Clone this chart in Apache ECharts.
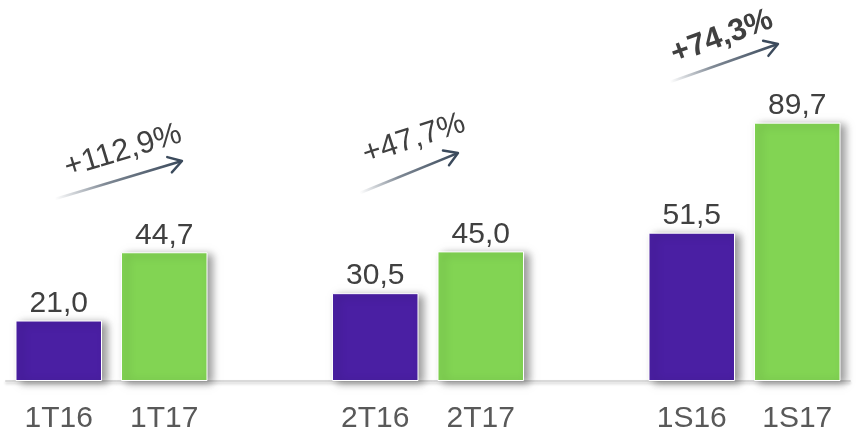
<!DOCTYPE html>
<html><head><meta charset="utf-8">
<script src="https://cdn.jsdelivr.net/npm/echarts@6/dist/echarts.min.js"></script>
<style>html,body{margin:0;padding:0;background:#fff}#c{width:856px;height:440px}</style>
</head><body><div id="c"></div>
<script>
const periods = ['1T16', '1T17', '2T16', '2T17', '1S16', '1S17'];
const values = [21.0, 44.7, 30.5, 45.0, 51.5, 89.7];
const growthLabels = ['+112,9%', '+47,7%', '+74,3%'];
const PURPLE = '#4a1fa3', GREEN = '#82d453';

// build category axis with an empty slot between each pair
const cats = [], data = [];
periods.forEach((p, i) => {
  if (i > 0 && i % 2 === 0) { cats.push(''); data.push('-'); }
  cats.push(p);
  data.push({ value: values[i], itemStyle: { color: i % 2 === 0 ? PURPLE : GREEN } });
});

const chart = echarts.init(document.getElementById('c'), null, { renderer: 'canvas' });
const FONT = '"Liberation Sans", Arial, sans-serif';

function arrow(x1, y1, x2, y2) {
  const dx = x2 - x1, dy = y2 - y1;
  const L = Math.sqrt(dx * dx + dy * dy);
  const ang = Math.atan2(-dy, dx);
  return {
    type: 'group', x: x1, y: y1, rotation: ang, silent: true,
    children: [
      { type: 'rect', shape: { x: 0, y: -1.3, width: L - 1, height: 2.6 },
        style: { fill: new echarts.graphic.LinearGradient(0, 0, 1, 0, [
          { offset: 0, color: 'rgba(59,74,92,0)' },
          { offset: 0.4, color: 'rgba(59,74,92,0.65)' },
          { offset: 1, color: '#3b4a5c' }]) } },
      { type: 'polyline', shape: { points: [[L - 13, -8], [L, 0], [L - 13, 8]] },
        style: { stroke: '#3b4a5c', lineWidth: 2.4, fill: null, lineJoin: 'round', lineCap: 'round' } }
    ]
  };
}
function gtext(txt, x, y, deg, bold) {
  return { type: 'text', x: x, y: y, rotation: deg * Math.PI / 180, silent: true,
    style: { text: txt, fill: '#404040', font: (bold ? 'bold ' : '') + '31px ' + FONT,
      textAlign: 'center', textVerticalAlign: 'middle' } };
}

chart.setOption({
  animation: false,
  grid: { left: 6, right: 6, top: 93, bottom: 59 },
  xAxis: {
    type: 'category', data: cats,
    axisTick: { show: false },
    axisLine: { lineStyle: { color: '#d9d9d9', width: 2, shadowColor: 'rgba(0,0,0,0.18)', shadowBlur: 3, shadowOffsetY: 2 } },
    axisLabel: { color: '#595959', fontSize: 30, fontFamily: FONT, margin: 23, interval: 0 }
  },
  yAxis: { type: 'value', min: 0, max: 100, show: false, splitLine: { show: false } },
  series: [{
    type: 'bar', data: data, barWidth: '82%',
    itemStyle: { borderColor: '#ffffff', borderWidth: 1,
      shadowColor: 'rgba(0,0,0,0.4)', shadowBlur: 8, shadowOffsetX: 5, shadowOffsetY: 2 },
    label: { show: true, position: 'top', distance: 2, color: '#404040', fontSize: 30, fontFamily: FONT,
      formatter: p => p.value.toFixed(1).replace('.', ',') }
  }],
  graphic: [
    arrow(55, 199, 182, 161), gtext(growthLabels[0], 123, 151, 17, false),
    arrow(360, 193, 458, 153), gtext(growthLabels[1], 414, 139, 18, false),
    arrow(670, 82, 778, 44), gtext(growthLabels[2], 722, 37, 20, true)
  ]
});
</script></body></html>
